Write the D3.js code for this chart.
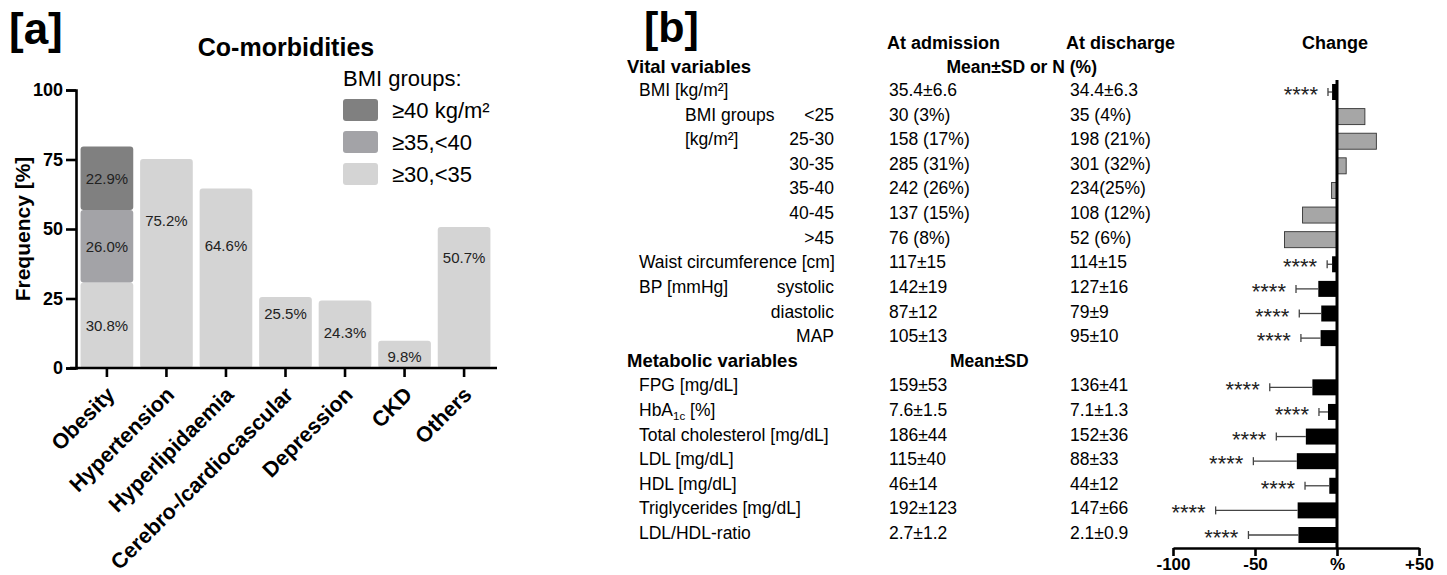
<!DOCTYPE html>
<html>
<head>
<meta charset="utf-8">
<script src="https://cdn.jsdelivr.net/npm/d3@7"></script>
<style>
  html, body { margin: 0; padding: 0; background: #fff; }
  svg { display: block; font-family: "Liberation Sans", Arial, sans-serif; }
</style>
</head>
<body>
<script>
// [a] co-morbidities
const categories = ['Obesity', 'Hypertension', 'Hyperlipidaemia', 'Cerebro-/cardiocascular', 'Depression', 'CKD', 'Others']
const bmiGroups = ['≥30,<35', '≥35,<40', '≥40 kg/m²']
const bmi30to35 = [30.8, 75.2, 64.6, 25.5, 24.3, 9.8, 50.7]
const bmi35to40 = [26.0, 0, 0, 0, 0, 0, 0]
const bmiOver40 = [22.9, 0, 0, 0, 0, 0, 0]
const freqTicks = [0, 25, 50, 75, 100]

// [b] admission vs discharge
const rowLabels = ['BMI [kg/m²]', '<25', '25-30', '30-35', '35-40', '40-45', '>45',
  'Waist circumference [cm]', 'systolic', 'diastolic', 'MAP', 'Metabolic variables',
  'FPG [mg/dL]', 'HbA1c [%]', 'Total cholesterol [mg/dL]', 'LDL [mg/dL]', 'HDL [mg/dL]',
  'Triglycerides [mg/dL]', 'LDL/HDL-ratio']
const atAdmission = ['35.4±6.6', '30 (3%)', '158 (17%)', '285 (31%)', '242 (26%)', '137 (15%)', '76 (8%)',
  '117±15', '142±19', '87±12', '105±13', null,
  '159±53', '7.6±1.5', '186±44', '115±40', '46±14', '192±123', '2.7±1.2']
const atDischarge = ['34.4±6.3', '35 (4%)', '198 (21%)', '301 (32%)', '234(25%)', '108 (12%)', '52 (6%)',
  '114±15', '127±16', '79±9', '95±10', null,
  '136±41', '7.1±1.3', '152±36', '88±33', '44±12', '147±66', '2.1±0.9']
const changePct = [-3, 17, 24, 5.6, -3.3, -21, -32, -3, -11.4, -9.6, -10, null,
  -15, -5.5, -19, -24.5, -4.7, -24, -23.5]
const changeErr = [-5.5, null, null, null, null, null, null, -6, -25, -23, -22, null,
  -41, -11, -37, -51, -19.5, -74, -54]
const bmiGroupRows = ['<25', '25-30', '30-35', '35-40', '40-45', '>45']
const bpRows = ['systolic', 'diastolic', 'MAP']
const changeTicks = [-100, -50, 0, 50]
const changeTickLabels = ['-100', '-50', '%', '+50']

const FILL = { '≥30,<35': '#d4d4d4', '≥35,<40': '#a3a3a7', '≥40 kg/m²': '#808080' }
// where the single-bar percent labels sit, in % units
const LABEL_AT = [null, 53.2, 44.2, 19.4, 12.6, 4.0, 39.6]
const FS = 17.5

const svg = d3.select('body').append('svg')
  .attr('width', 1447)
  .attr('height', 575)

svg.append('rect').attr('width', 1447).attr('height', 575).attr('fill', '#fff')

// ---------- panel a ----------
const a = svg.append('g')

a.append('text').text('[a]')
  .attr('x', 9).attr('y', 44)
  .attr('font-size', 44).attr('font-weight', 'bold')

a.append('text').text('Co-morbidities')
  .attr('x', 286).attr('y', 56)
  .attr('text-anchor', 'middle')
  .attr('font-size', 25).attr('font-weight', 'bold')

const x = d3.scaleBand().domain(categories).range([77, 494]).paddingInner(0.115).paddingOuter(0.06)
const y = d3.scaleLinear().domain([0, 100]).range([368, 90])

const rows = categories.map((c, i) => ({
  cat: c, '≥30,<35': bmi30to35[i], '≥35,<40': bmi35to40[i], '≥40 kg/m²': bmiOver40[i]
}))
const stacked = d3.stack().keys(bmiGroups)(rows)

const seg = a.append('g').selectAll('g').data(stacked).enter().append('g')
  .attr('fill', d => FILL[d.key])

seg.selectAll('rect').data(d => d.filter(p => p[1] > p[0])).enter().append('rect')
  .attr('x', d => x(d.data.cat))
  .attr('y', d => y(d[1]))
  .attr('width', x.bandwidth())
  .attr('height', d => y(d[0]) - y(d[1]))
  .attr('rx', 3)

const labels = []
stacked.forEach(layer => layer.forEach((p, i) => {
  const v = p[1] - p[0]
  if (v <= 0) return
  const at = categories[i] === 'Obesity' ? (p[0] + p[1]) / 2 : LABEL_AT[i]
  labels.push({ cat: p.data.cat, v, at })
}))

a.append('g').selectAll('text').data(labels).enter().append('text')
  .attr('x', d => x(d.cat) + x.bandwidth() / 2)
  .attr('y', d => y(d.at))
  .attr('dy', '0.36em')
  .attr('text-anchor', 'middle')
  .attr('font-size', 15)
  .attr('fill', '#222')
  .text(d => d.v.toFixed(1) + '%')

const yAxis = a.append('g')
  .attr('transform', 'translate(76,0)')
  .call(d3.axisLeft(y).tickValues(freqTicks).tickSize(10).tickPadding(3))
yAxis.select('.domain').attr('stroke-width', 2.6)
yAxis.selectAll('.tick line').attr('stroke-width', 2.6)
yAxis.selectAll('.tick text')
  .attr('font-size', 18).attr('font-weight', 'bold').attr('fill', '#000')
  .attr('font-family', '"Liberation Sans", Arial, sans-serif')

const xAxis = a.append('g')
  .attr('transform', 'translate(0,368)')
  .call(d3.axisBottom(x).tickSize(9).tickSizeOuter(0).tickFormat(''))
xAxis.select('.domain').attr('stroke-width', 2.6).attr('d', 'M70,0H497')
xAxis.selectAll('.tick line').attr('stroke-width', 2.6)

a.append('g').selectAll('text').data(categories).enter().append('text')
  .attr('transform', d => `translate(${x(d) + x.bandwidth() / 2 + 9},${396}) rotate(-45)`)
  .attr('text-anchor', 'end')
  .attr('font-size', 21.5).attr('font-weight', 'bold')
  .text(d => d)

a.append('text').text('Frequency [%]')
  .attr('transform', 'translate(30,229) rotate(-90)')
  .attr('text-anchor', 'middle')
  .attr('font-size', 21).attr('font-weight', 'bold')

// legend
const leg = a.append('g')
leg.append('text').text('BMI groups:')
  .attr('x', 343).attr('y', 86)
  .attr('font-size', 22)
const legItems = bmiGroups.slice().reverse()
const li = leg.selectAll('g.item').data(legItems).enter().append('g')
  .attr('transform', (d, i) => `translate(343,${110 + i * 32})`)
li.append('rect')
  .attr('y', -11).attr('width', 35).attr('height', 22).attr('rx', 3)
  .attr('fill', d => FILL[d])
li.append('text').text(d => d)
  .attr('x', 49).attr('y', 8)
  .attr('font-size', 22)

// ---------- panel b ----------
const b = svg.append('g')

b.append('text').text('[b]')
  .attr('x', 644).attr('y', 42)
  .attr('font-size', 43).attr('font-weight', 'bold')

const rowY = d3.scalePoint().domain(d3.range(rowLabels.length)).range([90, 533])
const COL_ADM = 889
const COL_DIS = 1070

const head = [
  { t: 'At admission', x: 887 },
  { t: 'At discharge', x: 1066 },
  { t: 'Change', x: 1302 }
]
b.append('g').selectAll('text').data(head).enter().append('text')
  .attr('x', d => d.x).attr('y', 49)
  .attr('font-size', 18).attr('font-weight', 'bold')
  .text(d => d.t)

b.append('text').text('Vital variables')
  .attr('x', 627).attr('y', 73)
  .attr('font-size', 18.5).attr('font-weight', 'bold')
b.append('text').text('Mean±SD or N (%)')
  .attr('x', 1097).attr('y', 73)
  .attr('text-anchor', 'end')
  .attr('font-size', 17.5).attr('font-weight', 'bold')

// group captions
b.append('text').text('BMI groups').attr('x', 685).attr('y', rowY(1) + 6).attr('font-size', FS)
b.append('text').text('[kg/m²]').attr('x', 685).attr('y', rowY(2) + 6).attr('font-size', FS)
b.append('text').text('BP [mmHg]').attr('x', 639).attr('y', rowY(8) + 6).attr('font-size', FS)

const tableRows = rowLabels.map((label, i) => ({
  i, label, adm: atAdmission[i], dis: atDischarge[i], chg: changePct[i], err: changeErr[i]
}))

b.append('g').selectAll('text').data(tableRows).enter().append('text')
  .attr('y', d => rowY(d.i) + 6)
  .attr('font-size', FS)
  .each(function (d) {
    const el = d3.select(this)
    if (d.label === 'Metabolic variables') {
      el.attr('x', 627).attr('y', rowY(d.i) + 6.5).attr('font-size', 18.5).attr('font-weight', 'bold').text(d.label)
    } else if (bmiGroupRows.includes(d.label) || bpRows.includes(d.label)) {
      el.attr('x', 834).attr('text-anchor', 'end').text(d.label)
    } else if (d.label === 'HbA1c [%]') {
      el.attr('x', 639)
      el.append('tspan').text('HbA')
      el.append('tspan').text('1c').attr('font-size', 11.5).attr('dy', 4)
      el.append('tspan').text(' [%]').attr('dy', -4)
    } else {
      el.attr('x', 639).text(d.label)
    }
  })

b.append('text').text('Mean±SD')
  .attr('x', 950).attr('y', rowY(11) + 6.5)
  .attr('font-size', 17.5).attr('font-weight', 'bold')

const valRows = tableRows.filter(d => d.adm)
b.append('g').selectAll('text').data(valRows).enter().append('text')
  .attr('x', COL_ADM).attr('y', d => rowY(d.i) + 6)
  .attr('font-size', FS).text(d => d.adm)
b.append('g').selectAll('text').data(valRows).enter().append('text')
  .attr('x', COL_DIS).attr('y', d => rowY(d.i) + 6)
  .attr('font-size', FS).text(d => d.dis)

// change bars
const cx = d3.scaleLinear().domain([-100, 50]).range([1173, 1419])
const barRows = tableRows.filter(d => d.chg !== null)
const BAR_H = 16
const isGrey = d => bmiGroupRows.includes(d.label)

b.append('g').selectAll('rect').data(barRows).enter().append('rect')
  .attr('x', d => cx(Math.min(0, d.chg)))
  .attr('y', d => rowY(d.i) + 2 - BAR_H / 2)
  .attr('width', d => Math.abs(cx(d.chg) - cx(0)))
  .attr('height', BAR_H)
  .attr('fill', d => isGrey(d) ? '#a6a6a6' : '#000')
  .attr('stroke', d => isGrey(d) ? '#333' : 'none')
  .attr('stroke-width', 0.9)

const errRows = barRows.filter(d => d.err !== null)
const eg = b.append('g').attr('stroke', '#444').attr('stroke-width', 1.3)
eg.selectAll('line.w').data(errRows).enter().append('line')
  .attr('x1', d => cx(d.chg)).attr('x2', d => cx(d.err))
  .attr('y1', d => rowY(d.i) + 2).attr('y2', d => rowY(d.i) + 2)
eg.selectAll('line.c').data(errRows).enter().append('line')
  .attr('x1', d => cx(d.err)).attr('x2', d => cx(d.err))
  .attr('y1', d => rowY(d.i) + 2 - 4).attr('y2', d => rowY(d.i) + 2 + 4)

b.append('g').selectAll('text').data(errRows).enter().append('text')
  .attr('x', d => cx(d.err) - 10)
  .attr('y', d => rowY(d.i) + 2 + 10)
  .attr('text-anchor', 'end')
  .attr('font-size', 22)
  .attr('fill', '#222')
  .text('****')

// zero line
b.append('line')
  .attr('x1', cx(0)).attr('x2', cx(0))
  .attr('y1', 80).attr('y2', 548)
  .attr('stroke', '#000').attr('stroke-width', 3)

const cAxis = b.append('g')
  .attr('transform', 'translate(0,548)')
  .call(d3.axisBottom(cx).tickValues(changeTicks).tickSize(8).tickSizeOuter(0).tickPadding(2)
    .tickFormat((d, i) => changeTickLabels[i]))
cAxis.select('.domain').attr('stroke-width', 2.6)
cAxis.selectAll('.tick line').attr('stroke-width', 2.6)
cAxis.selectAll('.tick text')
  .attr('font-size', 17).attr('font-weight', 'bold').attr('fill', '#000')
  .attr('font-family', '"Liberation Sans", Arial, sans-serif')
</script>
</body>
</html>
